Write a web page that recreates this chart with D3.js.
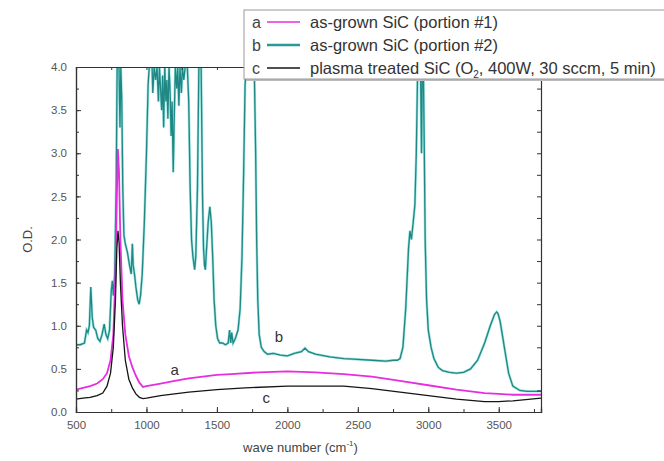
<!DOCTYPE html>
<meta charset="utf-8">
<script src="https://d3js.org/d3.v7.min.js"></script>
<style>
  body { margin: 0; background: #fff; }
  text { font-family: "Liberation Sans", Arial, sans-serif; }
</style>
<div id="my_dataviz"></div>
<script>

// series b: as-grown SiC (portion #2) [wave number, O.D.]
var seriesB = [
  [500,0.78],[530,0.78],[560,0.8],[575,0.95],[585,0.92],[595,1.0],[605,1.45],[615,1.1],
  [625,0.98],[640,0.95],[655,0.85],[670,0.82],[685,0.9],[700,1.02],[712,0.9],[725,0.85],
  [738,0.95],[750,1.4],[758,1.52],[765,1.35],[775,1.6],[785,2.6],[792,4.0],[805,4.0],
  [812,3.3],[818,4.0],[825,3.6],[832,2.6],[840,2.05],[850,1.95],[865,1.85],[880,1.7],
  [892,1.6],[900,1.95],[906,1.7],[915,1.6],[925,1.45],[938,1.3],[948,1.25],[958,1.35],
  [970,1.6],[985,2.2],[1000,3.0],[1012,3.8],[1020,4.0],[1040,4.0],[1045,3.7],[1055,4.0],
  [1065,3.85],[1075,4.0],[1085,3.6],[1092,4.0],[1100,3.75],[1108,3.5],[1115,3.9],[1122,3.3],
  [1130,4.0],[1138,3.6],[1145,3.85],[1152,3.4],[1160,4.0],[1168,3.7],[1175,3.2],[1182,3.6],
  [1190,2.78],[1197,3.4],[1205,4.0],[1215,3.75],[1222,4.0],[1230,3.55],[1238,4.0],[1248,3.7],
  [1255,4.0],[1265,3.85],[1275,4.0],[1290,4.0],[1300,3.6],[1310,2.6],[1320,2.0],[1330,1.8],
  [1342,1.65],[1350,1.8],[1362,2.6],[1372,4.0],[1388,4.0],[1398,2.5],[1405,1.9],[1412,1.7],
  [1418,1.65],[1425,1.85],[1438,2.2],[1450,2.38],[1460,2.2],[1470,1.8],[1480,1.3],[1492,1.0],
  [1505,0.85],[1520,0.8],[1540,0.8],[1560,0.78],[1580,0.8],[1590,0.95],[1598,0.8],[1605,0.92],
  [1615,0.8],[1630,0.85],[1650,0.95],[1665,1.2],[1678,1.8],[1690,2.8],[1700,3.8],[1710,4.0],
  [1765,4.0],[1775,3.0],[1782,2.0],[1790,1.3],[1800,0.9],[1815,0.75],[1835,0.7],[1860,0.67],
  [1900,0.68],[1950,0.66],[2000,0.65],[2050,0.68],[2100,0.7],[2125,0.74],[2150,0.7],[2200,0.67],
  [2300,0.64],[2400,0.62],[2500,0.61],[2600,0.6],[2700,0.59],[2750,0.6],[2780,0.6],[2800,0.62],
  [2820,0.75],[2840,1.2],[2860,1.9],[2870,2.1],[2880,2.0],[2890,2.15],[2905,2.4],[2915,3.0],
  [2925,4.0],[2945,4.0],[2952,3.0],[2958,4.0],[2965,4.0],[2972,3.0],[2978,2.0],[2988,1.3],
  [3000,0.95],[3020,0.75],[3040,0.62],[3070,0.52],[3100,0.48],[3150,0.46],[3200,0.45],[3250,0.46],
  [3300,0.5],[3350,0.6],[3400,0.8],[3440,1.0],[3470,1.13],[3485,1.16],[3495,1.14],[3510,1.05],
  [3540,0.75],[3570,0.45],[3600,0.3],[3650,0.25],[3700,0.24],[3800,0.24]
];

// series a: as-grown SiC (portion #1)
var seriesA = [
  [500,0.26],[550,0.28],[600,0.3],[650,0.33],[690,0.38],[720,0.45],[745,0.6],[765,0.9],
  [780,1.6],[790,2.5],[797,3.05],[805,2.8],[815,2.0],[830,1.3],[850,0.9],[875,0.65],
  [900,0.52],[925,0.42],[950,0.34],[975,0.29],[1000,0.3],[1100,0.33],[1200,0.36],[1300,0.39],
  [1400,0.41],[1500,0.43],[1600,0.44],[1800,0.46],[2000,0.47],[2200,0.46],[2400,0.44],
  [2600,0.41],[2800,0.36],[3000,0.31],[3200,0.26],[3400,0.22],[3500,0.21],[3600,0.2],[3800,0.2]
];

// series c: plasma treated SiC
var seriesC = [
  [500,0.15],[550,0.16],[600,0.17],[650,0.19],[690,0.22],[720,0.3],[745,0.45],[765,0.75],
  [780,1.3],[790,1.9],[798,2.1],[806,1.95],[815,1.5],[830,1.0],[850,0.6],[875,0.38],
  [900,0.28],[925,0.21],[950,0.17],[975,0.155],[1000,0.16],[1100,0.19],[1200,0.21],[1300,0.23],
  [1500,0.26],[1700,0.28],[2000,0.3],[2200,0.3],[2400,0.3],[2600,0.27],[2800,0.23],
  [3000,0.19],[3200,0.15],[3400,0.12],[3500,0.12],[3600,0.13],[3800,0.16]
];

var xTicks = [500, 1000, 1500, 2000, 2500, 3000, 3500];
var yTicks = [0.0, 0.5, 1.0, 1.5, 2.0, 2.5, 3.0, 3.5, 4.0];
var legendKeys = ["a", "b", "c"];
var legendLabels = ["as-grown SiC (portion #1)", "as-grown SiC (portion #2)", "plasma treated SiC (O"];

var w = 664, h = 461;
var margin = { top: 67, right: 123, bottom: 49, left: 76 };
var width = w - margin.left - margin.right,
    height = h - margin.top - margin.bottom;

var svg = d3.select("#my_dataviz")
  .append("svg")
  .attr("width", w)
  .attr("height", h);

var g = svg.append("g")
  .attr("transform", "translate(" + margin.left + "," + margin.top + ")");

var x = d3.scaleLinear().domain([500, 3800]).range([0, width]);
var y = d3.scaleLinear().domain([0, 4]).range([height, 0]);

g.append("clipPath").attr("id", "clip")
  .append("rect").attr("width", width).attr("height", height);

var line = d3.line()
  .x(function (d) { return x(d[0]); })
  .y(function (d) { return y(d[1]); });

var plot = g.append("g").attr("clip-path", "url(#clip)");

// halo under teal line, like the blurry original
plot.append("path").datum(seriesB)
  .attr("fill", "none").attr("stroke", "#9fe4e0").attr("stroke-width", 2.6)
  .attr("d", line);
plot.append("path").datum(seriesB)
  .attr("fill", "none").attr("stroke", "#1f8784").attr("stroke-width", 1.3)
  .attr("d", line);
plot.append("path").datum(seriesA)
  .attr("fill", "none").attr("stroke", "#e62ee0").attr("stroke-width", 1.8)
  .attr("d", line);
plot.append("path").datum(seriesC)
  .attr("fill", "none").attr("stroke", "#151515").attr("stroke-width", 1.3)
  .attr("d", line);

// axes: ticks inside on all four sides
var minorX = d3.range(500, 3801, 250);
var minorY = d3.range(0, 4.01, 0.25);

var axisColor = "#333";
g.append("g").attr("transform", "translate(0," + height + ")")
  .call(d3.axisBottom(x).tickValues(minorX).tickSize(-3).tickFormat(""));
g.append("g").attr("transform", "translate(0," + height + ")")
  .call(d3.axisBottom(x).tickValues(xTicks).tickSize(-5).tickPadding(9).tickFormat(d3.format("d")));
g.append("g")
  .call(d3.axisTop(x).tickValues(minorX).tickSize(-3).tickFormat(""));
g.append("g")
  .call(d3.axisLeft(y).tickValues(minorY).tickSize(-3).tickFormat(""));
g.append("g")
  .call(d3.axisLeft(y).tickValues(yTicks).tickSize(-5).tickPadding(9).tickFormat(d3.format(".1f")));
g.append("g").attr("transform", "translate(" + width + ",0)")
  .call(d3.axisRight(y).tickValues(minorY).tickSize(-4).tickFormat(""));

g.selectAll(".domain").attr("stroke", axisColor).attr("stroke-width", 1.2);
g.selectAll(".tick line").attr("stroke", axisColor);
g.selectAll(".tick text").attr("fill", "#555").attr("font-size", "11.5px")
  .attr("font-family", "Liberation Sans, Arial, sans-serif");

// in-plot letters
var labelPos = [[1200, 0.49, "a"], [1940, 0.87, "b"], [1850, 0.16, "c"]];
g.selectAll(".curveLabel")
  .data(labelPos)
  .enter()
  .append("text")
  .attr("class", "curveLabel")
  .attr("x", function (d) { return x(d[0]); })
  .attr("y", function (d) { return y(d[1]); })
  .attr("text-anchor", "middle")
  .attr("dy", "0.35em")
  .attr("font-size", "15px")
  .attr("fill", "#333")
  .text(function (d) { return d[2]; });

// axis titles
var xt = svg.append("text")
  .attr("x", margin.left + width / 2 - 8)
  .attr("y", 452)
  .attr("text-anchor", "middle")
  .attr("font-size", "13px")
  .attr("fill", "#444");
xt.append("tspan").text("wave number (cm");
xt.append("tspan").attr("font-size", "8px").attr("dy", "-6").text("-1");
xt.append("tspan").attr("dy", "6").text(")");

svg.append("text")
  .attr("transform", "translate(32," + (margin.top + height / 2) + ") rotate(-90)")
  .attr("text-anchor", "middle")
  .attr("font-size", "13px")
  .attr("fill", "#444")
  .text("O.D.");

// legend
var colors = ["#e62ee0", "#2a9a96", "#151515"];
var leg = svg.append("g").attr("transform", "translate(244,10)");
leg.append("rect").attr("x", 2).attr("y", 2).attr("width", 440).attr("height", 69)
  .attr("fill", "#bbb");
leg.append("rect").attr("width", 440).attr("height", 69)
  .attr("fill", "#fff").attr("stroke", "#999");

var rows = leg.selectAll(".row")
  .data(legendKeys)
  .enter()
  .append("g")
  .attr("transform", function (d, i) { return "translate(0," + (12 + i * 23) + ")"; });
rows.append("text").attr("x", 8).attr("dy", "0.35em").attr("font-size", "16px").attr("fill", "#444")
  .text(function (d) { return d; });
rows.append("line").attr("x1", 23).attr("x2", 56).attr("y1", 0).attr("y2", 0)
  .attr("stroke", function (d, i) { return colors[i]; })
  .attr("stroke-width", function (d, i) { return i == 1 ? 2.5 : 1.3; });
var lt = rows.append("text").attr("x", 66).attr("dy", "0.35em").attr("font-size", "16.5px").attr("fill", "#333");
lt.append("tspan").text(function (d, i) { return legendLabels[i]; });
lt.filter(function (d, i) { return i == 2; })
  .call(function (s) {
    s.append("tspan").attr("font-size", "10px").attr("dy", "4").text("2");
    s.append("tspan").attr("dy", "-4").text(", 400W, 30 sccm, 5 min)");
  });

</script>
